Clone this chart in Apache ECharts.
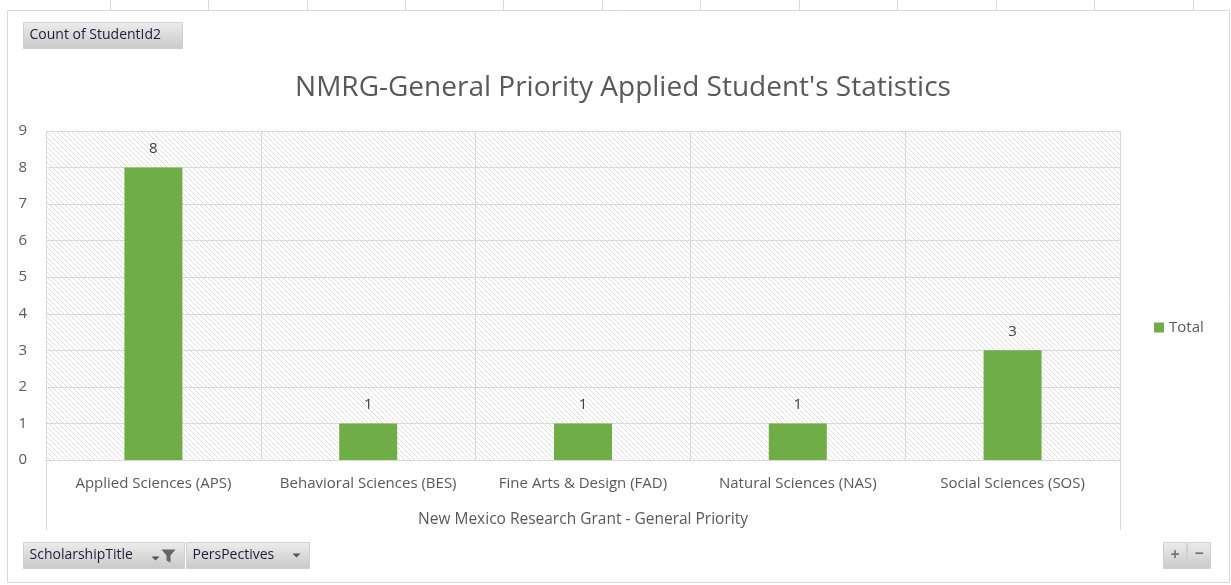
<!DOCTYPE html>
<html>
<head>
<meta charset="utf-8">
<script src="https://cdn.jsdelivr.net/npm/echarts@6/dist/echarts.min.js"></script>
<style>
html,body{margin:0;padding:0;background:#fff;}
#chart{width:1231px;height:585px;}
</style>
</head>
<body>
<div id="chart"></div>
<script>
const categories = ['Applied Sciences (APS)', 'Behavioral Sciences (BES)', 'Fine Arts & Design (FAD)', 'Natural Sciences (NAS)', 'Social Sciences (SOS)'];
const totals = [8, 1, 1, 1, 3];
const yTicks = [0, 1, 2, 3, 4, 5, 6, 7, 8, 9];
const seriesName = 'Total';
const chartTitle = "NMRG-General Priority Applied Student's Statistics";
const axisName = 'New Mexico Research Grant - General Priority';

// hatch pattern
const pc = document.createElement('canvas');
pc.width = 5; pc.height = 5;
const px = pc.getContext('2d');
px.fillStyle = '#ffffff'; px.fillRect(0, 0, 5, 5);
px.strokeStyle = '#dedede'; px.lineWidth = 1;
px.beginPath();
px.moveTo(-1, -1); px.lineTo(6, 6);
px.moveTo(-1, 4); px.lineTo(1, 6);
px.moveTo(4, -1); px.lineTo(6, 1);
px.stroke();

const FONT = "'Open Sans', 'Noto Sans', sans-serif";
const btnFill = new echarts.graphic.LinearGradient(0, 0, 0, 1, [
  {offset: 0, color: '#ececec'}, {offset: 1, color: '#c9c9c9'}
]);
function button(x, y, w, h, label) {
  return {
    type: 'group', left: x, top: y, children: [
      {type: 'rect', shape: {x: 0, y: 0, width: w, height: h}, style: {fill: btnFill, stroke: '#d0d0d0', lineWidth: 1}},
      {type: 'text', x: 6, y: h / 2, style: {text: label, fill: '#1c1c3a', font: "14px " + FONT, textVerticalAlign: 'middle'}}
    ]
  };
}

const topLines = [110, 208, 307, 405, 503, 602, 700, 799, 897, 996, 1094, 1193].map(x => ({
  type: 'line', shape: {x1: x + 0.5, y1: 0, x2: x + 0.5, y2: 10}, style: {stroke: '#d9d9d9', lineWidth: 1}, silent: true
}));

const chart = echarts.init(document.getElementById('chart'));
chart.setOption({
  backgroundColor: '#ffffff',
  animation: false,
  title: {
    text: chartTitle, left: 618, top: 69, textAlign: 'center',
    textStyle: {color: '#595959', fontSize: 28, fontWeight: 'normal', fontFamily: FONT}
  },
  legend: {
    data: [seriesName], orient: 'vertical', left: 1149, top: 315,
    itemWidth: 10, itemHeight: 10, itemGap: 4, icon: 'rect',
    textStyle: {color: '#595959', fontSize: 15, fontFamily: FONT}
  },
  grid: {
    left: 46, right: 111, top: 131, bottom: 125, containLabel: false,
    show: true, backgroundColor: {image: pc, repeat: 'repeat'}, borderWidth: 0
  },
  xAxis: {
    type: 'category', data: categories,
    axisLine: {lineStyle: {color: '#d9d9d9'}},
    axisTick: {show: false},
    splitLine: {show: true, lineStyle: {color: '#d9d9d9'}},
    axisLabel: {color: '#595959', fontSize: 15, fontFamily: FONT, margin: 16, interval: 0},
    name: axisName, nameLocation: 'middle', nameGap: 52,
    nameTextStyle: {color: '#595959', fontSize: 15.5, fontFamily: FONT}
  },
  yAxis: {
    type: 'value', min: yTicks[0], max: yTicks[yTicks.length - 1], interval: 1,
    axisLine: {show: false}, axisTick: {show: false},
    splitLine: {lineStyle: {color: '#d9d9d9'}},
    axisLabel: {color: '#595959', fontSize: 15, fontFamily: FONT, margin: 19}
  },
  series: [{
    name: seriesName, type: 'bar', data: totals, barWidth: 58,
    itemStyle: {color: '#70ad47'},
    label: {show: true, position: 'top', distance: 11, color: '#404040', fontSize: 15, fontFamily: FONT}
  }],
  graphic: [
    {type: 'rect', shape: {x: 7.5, y: 10.5, width: 1222, height: 572}, style: {fill: null, stroke: '#d9d9d9', lineWidth: 1}, silent: true},
    ...topLines,
    {type: 'line', shape: {x1: 46.5, y1: 460, x2: 46.5, y2: 530}, style: {stroke: '#d9d9d9', lineWidth: 1}, silent: true},
    {type: 'line', shape: {x1: 1120.5, y1: 460, x2: 1120.5, y2: 530}, style: {stroke: '#d9d9d9', lineWidth: 1}, silent: true},
    button(23, 22, 159, 26, 'Count of StudentId2'),
    {
      type: 'group', left: 23, top: 542, children: [
        {type: 'rect', shape: {x: 0, y: 0, width: 161, height: 26}, style: {fill: btnFill, stroke: '#d0d0d0', lineWidth: 1}},
        {type: 'text', x: 6, y: 13, style: {text: 'ScholarshipTitle', fill: '#1c1c3a', font: "14px " + FONT, textVerticalAlign: 'middle'}},
        {type: 'polygon', shape: {points: [[128, 14], [136, 14], [132, 18]]}, style: {fill: '#555'}},
        {type: 'polygon', shape: {points: [[138, 7], [152, 7], [147, 13], [147, 20], [143, 18], [143, 13]]}, style: {fill: '#666'}}
      ]
    },
    {
      type: 'group', left: 186, top: 542, children: [
        {type: 'rect', shape: {x: 0, y: 0, width: 123, height: 26}, style: {fill: btnFill, stroke: '#d0d0d0', lineWidth: 1}},
        {type: 'text', x: 6, y: 13, style: {text: 'PersPectives', fill: '#1c1c3a', font: "14px " + FONT, textVerticalAlign: 'middle'}},
        {type: 'polygon', shape: {points: [[106, 11], [114, 11], [110, 15]]}, style: {fill: '#555'}}
      ]
    },
    {
      type: 'group', left: 1163, top: 542, children: [
        {type: 'rect', shape: {x: 0, y: 0, width: 23, height: 26}, style: {fill: btnFill, stroke: '#d0d0d0', lineWidth: 1}},
        {type: 'rect', shape: {x: 24, y: 0, width: 23, height: 26}, style: {fill: btnFill, stroke: '#d0d0d0', lineWidth: 1}},
        {type: 'text', x: 11.5, y: 13, style: {text: '+', fill: '#777', font: "bold 16px " + FONT, textAlign: 'center', textVerticalAlign: 'middle'}},
        {type: 'text', x: 35.5, y: 12, style: {text: '−', fill: '#777', font: "bold 16px " + FONT, textAlign: 'center', textVerticalAlign: 'middle'}}
      ]
    }
  ]
});
</script>
</body>
</html>
